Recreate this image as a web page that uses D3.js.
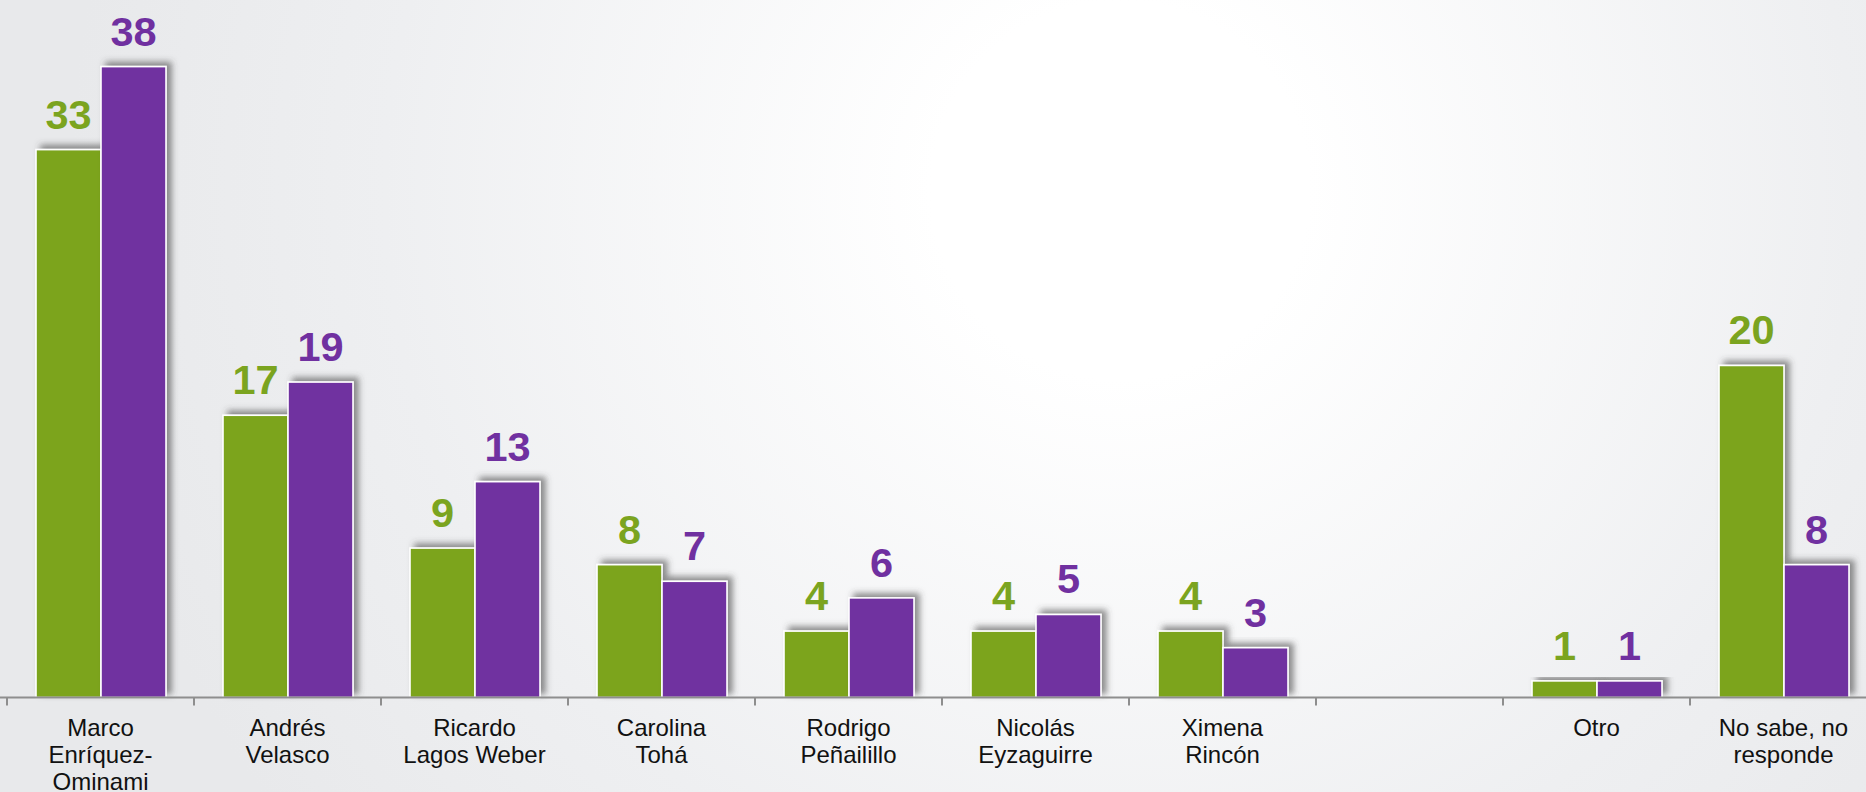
<!DOCTYPE html>
<html>
<head>
<meta charset="utf-8">
<script src="https://cdn.jsdelivr.net/npm/d3@7"></script>
<style>
  html, body { margin: 0; padding: 0; overflow: hidden; }
  svg { display: block; }
</style>
</head>
<body>
<script>
// ---- data ----
const categories = [
  "Marco\nEnríquez-\nOminami",
  "Andrés\nVelasco",
  "Ricardo\nLagos Weber",
  "Carolina\nTohá",
  "Rodrigo\nPeñailillo",
  "Nicolás\nEyzaguirre",
  "Ximena\nRincón",
  " ",
  "Otro",
  "No sabe, no\nresponde"
];
const seriesNames = ["Serie 1", "Serie 2"];
const seriesGreen  = [33, 17, 9, 8, 4, 4, 4, null, 1, 20];
const seriesPurple = [38, 19, 13, 7, 6, 5, 3, null, 1, 8];
const seriesColors = ["#7ba41f", "#7030a0"];

// ---- layout ----
const W = 1866, H = 792;
const baseY = 697.5;

const svg = d3.select("body").append("svg").attr("width", W).attr("height", H);
const defs = svg.append("defs");

const bg = defs.append("radialGradient").attr("id", "bg")
  .attr("gradientUnits", "userSpaceOnUse")
  .attr("cx", 1120).attr("cy", 190).attr("r", 1050);
bg.append("stop").attr("offset", 0).attr("stop-color", "#ffffff");
bg.append("stop").attr("offset", 0.18).attr("stop-color", "#ffffff");
bg.append("stop").attr("offset", 0.7).attr("stop-color", "#eeeff1");
bg.append("stop").attr("offset", 1).attr("stop-color", "#e8e9eb");
svg.append("rect").attr("width", W).attr("height", H).attr("fill", "url(#bg)");

const f = defs.append("filter").attr("id", "shadow")
  .attr("x", "-20%").attr("y", "-20%").attr("width", "150%").attr("height", "140%");
f.append("feDropShadow").attr("dx", 5).attr("dy", -4).attr("stdDeviation", 3)
  .attr("flood-color", "#444").attr("flood-opacity", 0.6);

const x0 = d3.scaleBand().domain(categories).range([7, 7 + 187 * categories.length]).padding(0);
const x1 = d3.scaleBand().domain(seriesNames).range([29, 159]).padding(0);
const y = d3.scaleLinear().domain([0, 38]).range([baseY, 66.6]);

const series = [seriesGreen, seriesPurple];

// bars
series.forEach((vals, si) => {
  const g = svg.append("g");
  const data = categories.map((c, i) => ({c, v: vals[i]})).filter(d => d.v != null);
  g.selectAll("rect").data(data).join("rect")
    .attr("x", d => x0(d.c) + x1(seriesNames[si]))
    .attr("y", d => y(d.v))
    .attr("width", x1.bandwidth())
    .attr("height", d => baseY - y(d.v))
    .attr("fill", seriesColors[si])
    .attr("stroke", "#ffffff")
    .attr("stroke-width", 1.6)
    .attr("filter", "url(#shadow)");
});

// value labels
series.forEach((vals, si) => {
  const data = categories.map((c, i) => ({c, v: vals[i]})).filter(d => d.v != null);
  svg.append("g").selectAll("text").data(data).join("text")
    .attr("x", d => x0(d.c) + x1(seriesNames[si]) + x1.bandwidth() / 2)
    .attr("y", d => y(d.v) - 21)
    .attr("text-anchor", "middle")
    .attr("font-family", "Liberation Sans, Arial, sans-serif")
    .attr("font-weight", "bold")
    .attr("font-size", 41.5)
    .attr("fill", seriesColors[si])
    .text(d => d.v);
});

// axis
const axis = d3.axisBottom(x0).tickSizeInner(8).tickSizeOuter(0).tickFormat("");
const ag = svg.append("g").attr("transform", `translate(0,${baseY})`).call(axis);
ag.select(".domain").attr("stroke", "#8e8e8e").attr("stroke-width", 2)
  .attr("d", `M0,0H${W}`);
// ticks at band boundaries
ag.selectAll(".tick").attr("transform", d => `translate(${x0(d)},0)`);
ag.selectAll(".tick line").attr("stroke", "#8e8e8e").attr("stroke-width", 2);

// category labels
const lab = svg.append("g");
categories.forEach(c => {
  const lines = c.split("\n");
  const t = lab.append("text")
    .attr("x", x0(c) + x0.bandwidth() / 2)
    .attr("y", baseY + 38)
    .attr("text-anchor", "middle")
    .attr("font-family", "Liberation Sans, Arial, sans-serif")
    .attr("font-size", 24)
    .attr("fill", "#111");
  lines.forEach((ln, i) => {
    t.append("tspan").attr("x", x0(c) + x0.bandwidth() / 2).attr("dy", i === 0 ? 0 : 27).text(ln);
  });
});
</script>
</body>
</html>
